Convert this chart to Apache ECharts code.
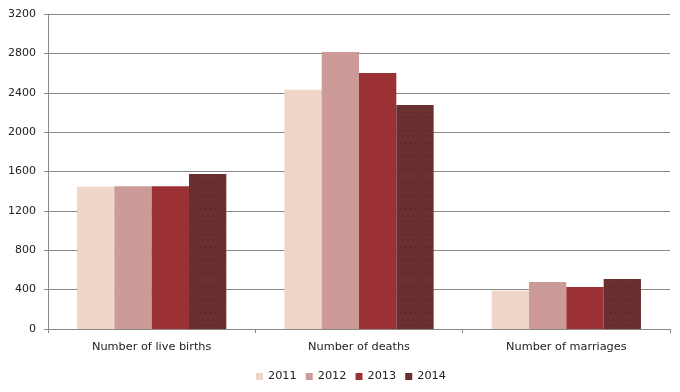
<!DOCTYPE html>
<html><head><meta charset="utf-8">
<script src="https://cdn.jsdelivr.net/npm/echarts@6/dist/echarts.min.js"></script>
<style>html,body{margin:0;padding:0;background:#fff}#c{width:680px;height:392px}</style>
</head><body><div id="c"></div>
<script>
const categories = ["Number of live births", "Number of deaths", "Number of marriages"];
const years = ["2011", "2012", "2013", "2014"];
const v2011 = [1445, 2430, 388];
const v2012 = [1450, 2815, 478];
const v2013 = [1450, 2600, 427];
const v2014 = [1575, 2276, 508];
const yTicks = [0, 400, 800, 1200, 1600, 2000, 2400, 2800, 3200];

const colors = ["#efd6c8", "#cc9a98", "#9b3134", "#6a3031"];
const values = [v2011, v2012, v2013, v2014];
const font = "DejaVu Sans";

const series = years.map((y, i) => ({
  name: y, type: "bar", data: values[i],
  barGap: "0%", barCategoryGap: "28%",
  itemStyle: Object.assign({color: colors[i]}, i === 3 ? {decal: {
    symbol: "rect", symbolSize: 1, color: "rgba(20,0,0,0.4)",
    dashArrayX: [1, 4], dashArrayY: [1, 12], rotation: 0
  }} : {})
}));

const chart = echarts.init(document.getElementById("c"), null, {renderer: "canvas"});
chart.setOption({
  animation: false,
  color: colors,
  grid: {left: 48, right: 10, top: 14, bottom: 63, containLabel: false},
  legend: {
    data: years, bottom: 5, left: 251,
    itemWidth: 7, itemHeight: 7, itemGap: 9, icon: "rect",
    textStyle: {fontFamily: font, fontSize: 11.3, color: "#222"}
  },
  xAxis: {
    type: "category", data: categories,
    axisLine: {lineStyle: {color: "#888"}},
    axisTick: {show: true, length: 4, lineStyle: {color: "#888"}},
    axisLabel: {fontFamily: font, fontSize: 11.3, color: "#222", margin: 13}
  },
  yAxis: {
    type: "value", min: yTicks[0], max: yTicks[yTicks.length - 1], interval: 400,
    axisLine: {show: true, lineStyle: {color: "#888"}},
    axisTick: {show: true, length: 4, lineStyle: {color: "#888"}},
    splitLine: {lineStyle: {color: "#888"}},
    axisLabel: {fontFamily: font, fontSize: 11, color: "#222", margin: 12,
      formatter: v => String(v)}
  },
  series: series
});
</script></body></html>
